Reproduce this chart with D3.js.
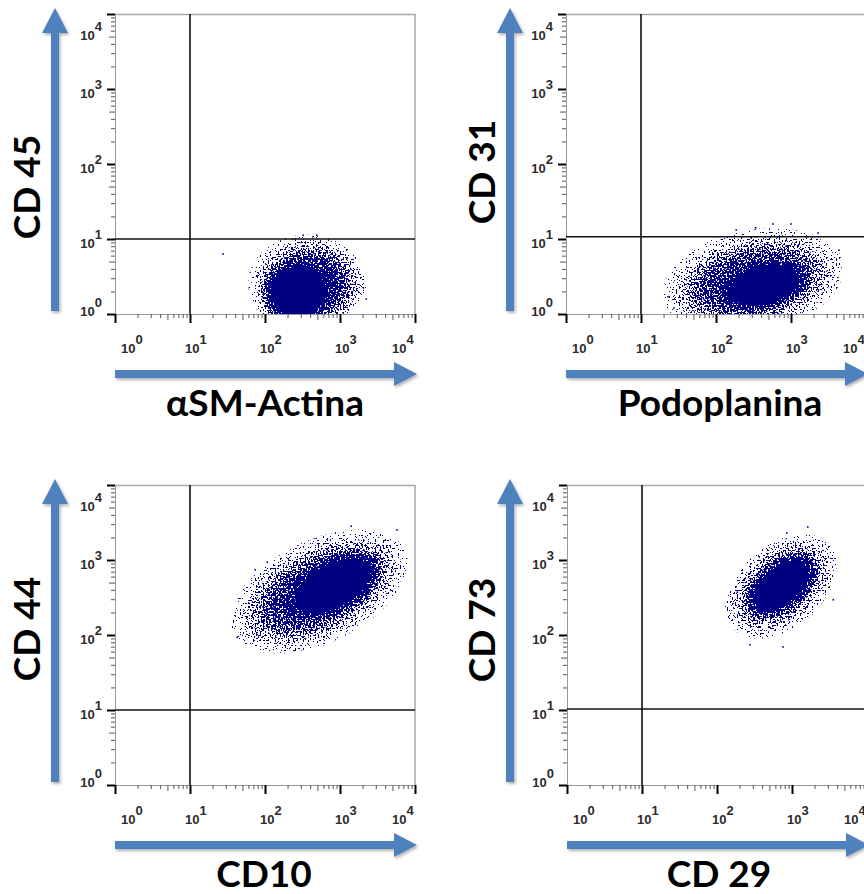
<!DOCTYPE html>
<html>
<head>
<meta charset="utf-8">
<script src="https://cdn.jsdelivr.net/npm/d3@7"></script>
<style>
  body { margin: 0; background: #fff; }
  svg { display: block; }
  .tick-label { font-family: "Liberation Sans", Arial, sans-serif; font-size: 13px; font-weight: bold; fill: #2b2b2b; }
  .title { font-family: Lato, "Open Sans", sans-serif; font-size: 37px; font-weight: 700; fill: #000; }
</style>
</head>
<body>
<svg width="864" height="894"></svg>
<script>
const xTitles = ["αSM-Actina", "Podoplanina", "CD10", "CD 29"];
const yTitles = ["CD 45", "CD 31", "CD 44", "CD 73"];
const decades = [0, 1, 2, 3, 4];          // tick labels are 10^k
const xGates = [10, 10, 10, 10];
const yGates = [10, 10.7, 10, 10.3];

// cell clouds:
// [log10 x centre, log10 y centre, x radius, y radius (in decades), tilt (deg), density]
const clouds = [
  [[2.40, 0.26, 0.50, 0.48, 0, 1], [2.60, 0.40, 0.76, 0.64, 0, 0.6], [2.55, 0.40, 0.85, 0.72, 0, 0.25]],
  [[2.66, 0.38, 0.64, 0.34, 14, 1], [2.50, 0.42, 1.22, 0.64, 12, 0.55], [2.50, 0.45, 1.35, 0.75, 10, 0.22]],
  [[2.94, 2.67, 0.76, 0.40, 28, 1], [2.72, 2.58, 1.28, 0.66, 26, 0.55], [2.72, 2.58, 1.40, 0.76, 26, 0.22]],
  [[2.86, 2.67, 0.60, 0.34, 38, 1], [2.85, 2.66, 0.86, 0.54, 40, 0.5], [2.85, 2.64, 0.95, 0.62, 40, 0.2]]
];

// stray events outside the clouds, [log10 x, log10 y]
const outliers = [
  [[1.44, 0.80], [3.35, 0.20], [2.51, 1.05], [2.69, 1.05], [2.64, 1.03]],
  [[2.27, 1.12], [2.53, 1.15], [2.76, 1.20], [3.00, 1.20], [3.36, 1.08], [3.64, 0.85], [1.36, 0.23], [1.44, 0.08]],
  [[3.15, 3.45], [3.76, 3.40], [1.63, 1.97], [1.87, 2.87], [2.03, 2.97]],
  [[3.21, 3.44], [2.27, 2.57], [3.55, 2.47], [2.93, 3.36], [2.44, 1.87], [2.88, 1.84]]
];

const layout = [
  { ox: 115, oy: 14,  arrowX: 55,  titleX: 40,  titleY: 187, xTitleX: 265 },
  { ox: 566, oy: 14,  arrowX: 510, titleX: 495, titleY: 172, xTitleX: 720 },
  { ox: 115, oy: 485, arrowX: 55,  titleX: 40,  titleY: 629, xTitleX: 264 },
  { ox: 567, oy: 485, arrowX: 510, titleX: 495, titleY: 630, xTitleX: 719 }
];

const size = 300;
const dotColor = "#000080";
const arrowColor = "#4f81bd";

const svg = d3.select("svg");
const defs = svg.append("defs");

// density falloff of a cloud
const grad = defs.append("radialGradient").attr("id", "blob");
[[0, 1], [0.35, 1], [0.55, 0.78], [0.72, 0.45], [0.86, 0.2], [1, 0]].forEach(([o, a]) => {
  grad.append("stop").attr("offset", o).attr("stop-color", dotColor).attr("stop-opacity", a);
});

defs.append("clipPath").attr("id", "plotClip")
  .append("rect").attr("width", size).attr("height", size);

const shadow = defs.append("filter").attr("id", "shadow")
  .attr("x", "-20%").attr("y", "-20%").attr("width", "140%").attr("height", "140%");
shadow.append("feDropShadow").attr("dx", 1.5).attr("dy", 2).attr("stdDeviation", 1.5)
  .attr("flood-color", "#000").attr("flood-opacity", 0.3);

// turns the smooth density into single speckles (dot look of a dot plot)
function speckleFilter(id, seed) {
  const f = defs.append("filter").attr("id", id)
    .attr("filterUnits", "userSpaceOnUse")
    .attr("x", 0).attr("y", 0).attr("width", size).attr("height", size)
    .attr("color-interpolation-filters", "sRGB");
  f.append("feTurbulence").attr("type", "fractalNoise").attr("baseFrequency", 0.6)
    .attr("numOctaves", 1).attr("seed", seed).attr("result", "noise");
  f.append("feColorMatrix").attr("in", "noise").attr("type", "matrix")
    .attr("values", "0 0 0 0 0  0 0 0 0 0  0 0 0 0 0  3 0 0 0 -1").attr("result", "na");
  f.append("feComposite").attr("in", "SourceGraphic").attr("in2", "na").attr("operator", "arithmetic")
    .attr("k1", 0).attr("k2", 1.35).attr("k3", -1).attr("k4", -0.04).attr("result", "d");
  f.append("feComponentTransfer").attr("in", "d").attr("result", "t")
    .append("feFuncA").attr("type", "linear").attr("slope", 100).attr("intercept", 0);
  f.append("feFlood").attr("flood-color", dotColor).attr("result", "c");
  f.append("feComposite").attr("in", "c").attr("in2", "t").attr("operator", "in");
}

layout.forEach((p, i) => {
  const x = d3.scaleLog().domain([1, 1e4]).range([0, size]);
  const y = d3.scaleLog().domain([1, 1e4]).range([size, 0]);
  const majors = decades.map(k => 10 ** k);
  const minors = x.ticks().filter(v => !majors.includes(v));

  const g = svg.append("g").attr("transform", `translate(${p.ox},${p.oy})`);

  // clouds
  speckleFilter(`speck${i}`, i * 7 + 3);
  const cg = g.append("g").attr("clip-path", "url(#plotClip)")
    .append("g").attr("filter", `url(#speck${i})`);
  clouds[i].forEach(([cx, cy, rx, ry, tilt, dens]) => {
    const px = x(10 ** cx), py = y(10 ** cy);
    cg.append("ellipse")
      .attr("cx", px).attr("cy", py)
      .attr("rx", x(10 ** (cx + rx)) - px)
      .attr("ry", py - y(10 ** (cy + ry)))
      .attr("transform", `rotate(${-tilt},${px},${py})`)
      .attr("fill", "url(#blob)")
      .attr("fill-opacity", dens);
  });

  g.selectAll(".outlier")
    .data(outliers[i])
    .enter()
    .append("rect")
    .attr("x", d => x(10 ** d[0]) - 0.8)
    .attr("y", d => y(10 ** d[1]) - 0.8)
    .attr("width", 1.6).attr("height", 1.6)
    .attr("fill", dotColor);

  // top / right frame
  g.append("path")
    .attr("d", `M0,0.5H${size}V${size}`)
    .attr("fill", "none").attr("stroke", "#a8a8a8").attr("stroke-width", 1.5);

  // minor ticks
  const yMinor = g.append("g").call(d3.axisLeft(y).tickValues(minors).tickSize(4).tickFormat(""));
  yMinor.selectAll(".tick line").attr("x2", d => String(d)[0] === "5" ? -6 : -4);
  const xMinor = g.append("g").attr("transform", `translate(0,${size})`)
    .call(d3.axisBottom(x).tickValues(minors).tickSize(4).tickFormat(""));
  xMinor.selectAll(".tick line").attr("y2", d => String(d)[0] === "5" ? 6 : 4);
  g.selectAll(".domain").attr("stroke", "#999");
  g.selectAll(".tick line").attr("stroke", "#555");

  // major ticks
  g.append("g").call(d3.axisLeft(y).tickValues(majors).tickSize(8).tickFormat(""))
    .call(a => a.select(".domain").remove())
    .selectAll("line").attr("stroke", "#000").attr("stroke-width", 2);
  g.append("g").attr("transform", `translate(0,${size})`)
    .call(d3.axisBottom(x).tickValues(majors).tickSize(9).tickFormat(""))
    .call(a => a.select(".domain").remove())
    .selectAll("line").attr("stroke", "#000").attr("stroke-width", 2);

  // tick labels 10^k
  decades.forEach(k => {
    const ty = y(10 ** k);
    const yl = g.append("text").attr("class", "tick-label")
      .attr("text-anchor", "end")
      .attr("x", -13)
      .attr("y", k === 0 ? ty + 2 : k === 4 ? 26 : ty + 9);
    yl.append("tspan").text("10");
    yl.append("tspan").attr("dy", -9).text(k);

    const tx = x(10 ** k);
    const xl = g.append("text").attr("class", "tick-label")
      .attr("x", k === 0 ? tx + 6 : k === 4 ? tx - 23 : tx - 5)
      .attr("y", size + 39);
    xl.append("tspan").text("10");
    xl.append("tspan").attr("dy", -9).text(k);
  });

  // quadrant gates
  g.append("line")
    .attr("x1", x(xGates[i])).attr("x2", x(xGates[i]))
    .attr("y1", 0).attr("y2", size)
    .attr("stroke", "#111").attr("stroke-width", 1.6);
  g.append("line")
    .attr("x1", 0).attr("x2", size)
    .attr("y1", y(yGates[i])).attr("y2", y(yGates[i]))
    .attr("stroke", "#111").attr("stroke-width", 1.6);

  // axis arrows
  const ax = p.arrowX, yb = p.oy + 297, yt = p.oy - 6;
  svg.append("path")
    .attr("d", `M${ax - 4},${yb}V${yt + 25}H${ax - 13}L${ax},${yt}L${ax + 13},${yt + 25}H${ax + 4}V${yb}Z`)
    .attr("fill", arrowColor).attr("filter", "url(#shadow)");
  const ay = p.oy + 360, xl0 = p.ox, xr = p.ox + 302;
  svg.append("path")
    .attr("d", `M${xl0},${ay - 4}H${xr - 23}V${ay - 12}L${xr},${ay}L${xr - 23},${ay + 12}V${ay + 4}H${xl0}Z`)
    .attr("fill", arrowColor).attr("filter", "url(#shadow)");

  // axis titles
  svg.append("text").attr("class", "title")
    .attr("text-anchor", "middle")
    .attr("transform", `translate(${p.titleX},${p.titleY}) rotate(-90)`)
    .text(yTitles[i]);
  svg.append("text").attr("class", "title")
    .attr("text-anchor", "middle")
    .attr("x", p.xTitleX).attr("y", p.oy + 402)
    .text(xTitles[i]);
});
</script>
</body>
</html>
